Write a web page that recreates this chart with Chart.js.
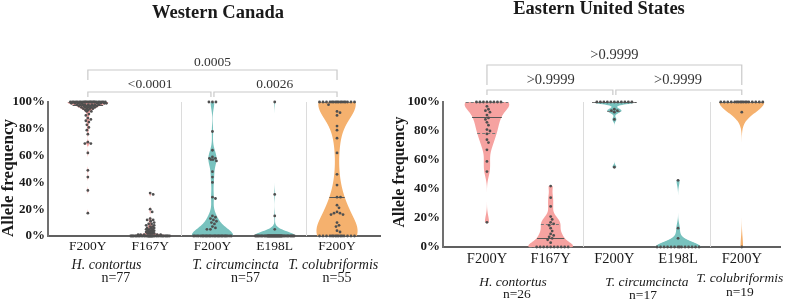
<!DOCTYPE html>
<html>
<head>
<meta charset="utf-8">
<script src="https://cdn.jsdelivr.net/npm/chart.js@4.4.1/dist/chart.umd.min.js"></script>
<style>
  body { margin: 0; background: #fff; }
  .row { display: flex; }
  canvas { display: block; }
</style>
</head>
<body>
<div class="row">
  <canvas id="west" width="390" height="305"></canvas>
  <canvas id="east" width="397" height="305"></canvas>
</div>
<script>
// ---- data ----
const mutations = ['F200Y', 'F167Y', 'F200Y', 'E198L', 'F200Y'];
const species = ['H. contortus', 'T. circumcincta', 'T. colubriformis'];
const westCounts = ['n=77', 'n=57', 'n=55'];
const eastCounts = ['n=26', 'n=17', 'n=19'];
const westPValues = ['0.0005', '<0.0001', '0.0026'];   // top, left, right
const eastPValues = ['>0.9999', '>0.9999', '>0.9999'];
const yTicks = [0, 20, 40, 60, 80, 100];

// allele frequency (%) per sample, Western Canada
const westHcF200Y = [100,100,100,100,100,100,100,100,100,100,100,100,100,100,100,100,100,100,100,100,100,100,100,100,
  99,99,99,99,99,99,99,99, 98,98,98,98,98,98,98,98, 97,97,97,97,97,97, 96,96,96,96,96, 95,95,95,95, 94,94, 93,93,
  91,90,88,87,86,85,83,81,79,76,70,69,69,62,49,44,34,17];
const westHcF167Y = [32,31,20,18,13,12,12,11,10,9,9,8,8,7,7,6,6,6,5,5,5,4,4,4,4,3,3,3,3,2,2,2,2,1,1,1,1,1,
  0,0,0,0,0,0,0,0,0,0,0,0,0,0,0,0,0,0,0,0,0,0,0,0,0,0,0,0,0,0,0,0,0,0,0,0,0,0,0];
const westTcF200Y = [100,100,100,78,64,59,58,58,57,57,56,48,44,40,29,28,15,14,13,12,11,10,9,7,6,5,5,
  0,0,0,0,0,0,0,0,0,0,0,0,0,0,0,0,0,0,0,0,0,0,0,0,0,0,0,0,0,0];
const westTcE198L = [100,31,15,5,
  0,0,0,0,0,0,0,0,0,0,0,0,0,0,0,0,0,0,0,0,0,0,0,0,0,0,0,0,0,0,0,0,0,0,0,0,0,0,0,0,0,0,0,0,0,0,0,0,0,0,0,0,0];
const westTcoF200Y = [100,100,100,100,100,100,100,100,100,100,100,100,100,100,100,100,
  98,93,92,90,82,79,73,62,46,38,29,29,23,21,18,17,17,16,16,10,8,7,4,3,
  0,0,0,0,0,0,0,0,0,0,0,0,0,0,0];

// allele frequency (%) per sample, Eastern United States
const eastHcF200Y = [100,100,100,100,100,100,100,100,97,95,94,93,91,89,88,86,84,81,80,78,74,72,67,59,52,17];
const eastHcF167Y = [42,34,28,21,19,17,16,15,13,11,9,8,7,6,5,3,0,0,0,0,0,0,0,0,0,0];
const eastTcF200Y = [100,100,100,100,100,100,100,100,100,100,100,95,94,94,93,88,55];
const eastTcE198L = [46,13,6,0,0,0,0,0,0,0,0,0,0,0,0,0,0];
const eastTcoF200Y = [100,100,100,100,100,100,100,100,100,100,100,100,100,100,100,100,100,93,0];

const violinColors = ['#f6a2a0', '#f6a2a0', '#78c2be', '#78c2be', '#f5b16e'];

// ---- helpers ----
const serif = "'Liberation Serif', 'Times New Roman', serif";
const BW_FACTOR = 0.6;
const DOT_GAP = 3.2;

function quantile(sorted, p) {
  const h = (sorted.length - 1) * p, i = Math.floor(h);
  const next = i + 1 < sorted.length ? sorted[i + 1] : sorted[i];
  return sorted[i] + (h - i) * (next - sorted[i]);
}

// kernel density outline (gaussian, nrd0 bandwidth), trimmed to the data range
function violinShape(vals, maxHalf) {
  const s = [...vals].sort((a, b) => a - b);
  const n = s.length;
  const mean = s.reduce((a, b) => a + b, 0) / n;
  const sd = Math.sqrt(s.reduce((a, b) => a + (b - mean) ** 2, 0) / (n - 1));
  let lo = Math.min(sd, (quantile(s, 0.75) - quantile(s, 0.25)) / 1.34);
  if (!lo) lo = sd || 1;
  const bw = 0.9 * lo * Math.pow(n, -0.2) * BW_FACTOR;
  const ys = [], ds = [];
  const min = s[0], max = s[n - 1];
  for (let k = 0; k <= 200; k++) {
    const y = min + (max - min) * k / 200;
    let d = 0;
    for (const v of s) d += Math.exp(-0.5 * ((y - v) / bw) ** 2);
    ys.push(y);
    ds.push(d);
  }
  const top = Math.max(...ds);
  return { ys, ws: ds.map(d => d / top * maxHalf), sorted: s };
}

function widthAt(shape, v) {
  const { ys, ws } = shape;
  if (v < ys[0] || v > ys[ys.length - 1]) return 0;
  for (let k = 0; k < ys.length - 1; k++) {
    if (v >= ys[k] && v <= ys[k + 1]) {
      const t = ys[k + 1] === ys[k] ? 0 : (v - ys[k]) / (ys[k + 1] - ys[k]);
      return ws[k] + t * (ws[k + 1] - ws[k]);
    }
  }
  return ws[ws.length - 1];
}

function makePanel(canvasId, panel) {
  const shapes = panel.series.map(vals => violinShape(vals, panel.halfWidth));

  const decor = {
    id: 'decor',
    beforeDatasetsDraw(chart) {
      const { ctx, scales: { x, y } } = chart;
      ctx.save();
      // group separators
      ctx.strokeStyle = '#dcdcdc';
      ctx.lineWidth = 1;
      panel.dividers.forEach(d => {
        const px = Math.round(x.getPixelForValue(d)) + 0.5;
        ctx.beginPath();
        ctx.moveTo(px, y.getPixelForValue(100));
        ctx.lineTo(px, y.getPixelForValue(0));
        ctx.stroke();
      });
      // violins
      shapes.forEach((s, i) => {
        ctx.fillStyle = violinColors[i];
        ctx.beginPath();
        s.ys.forEach((v, k) => {
          const px = x.getPixelForValue(i - s.ws[k]), py = y.getPixelForValue(v);
          if (k) ctx.lineTo(px, py); else ctx.moveTo(px, py);
        });
        for (let k = s.ys.length - 1; k >= 0; k--) {
          ctx.lineTo(x.getPixelForValue(i + s.ws[k]), y.getPixelForValue(s.ys[k]));
        }
        ctx.closePath();
        ctx.fill();
        // median (solid) and quartiles (dashed)
        [[0.5, [], '#555'], [0.25, [3, 2], '#777'], [0.75, [3, 2], '#777']].forEach(([p, dash, col]) => {
          const q = quantile(s.sorted, p);
          const w = widthAt(s, q);
          if (w * (x.getPixelForValue(1) - x.getPixelForValue(0)) < 1.5) return;
          const py = Math.round(y.getPixelForValue(q)) + 0.5;
          ctx.strokeStyle = col;
          ctx.setLineDash(dash);
          ctx.beginPath();
          ctx.moveTo(x.getPixelForValue(i - w), py);
          ctx.lineTo(x.getPixelForValue(i + w), py);
          ctx.stroke();
        });
        ctx.setLineDash([]);
      });
      ctx.restore();
    },
    afterDraw(chart) {
      const { ctx, scales: { x } } = chart;
      const L = panel.layout;
      ctx.save();
      ctx.fillStyle = '#1a1a1a';
      // title
      ctx.font = `bold ${L.titleSize}px ${serif}`;
      ctx.textAlign = 'center';
      ctx.textBaseline = 'alphabetic';
      ctx.fillText(panel.title, L.titleX, L.titleY);
      // y axis title
      ctx.save();
      ctx.translate(L.yTitleX, L.yTitleY);
      ctx.rotate(-Math.PI / 2);
      ctx.font = `bold ${L.yTitleSize}px ${serif}`;
      ctx.textBaseline = 'middle';
      ctx.fillText('Allele frequency', 0, 0);
      ctx.restore();
      // species and sample sizes
      ctx.textBaseline = 'middle';
      species.forEach((sp, i) => {
        ctx.font = `italic ${L.textSize}px ${serif}`;
        ctx.fillText(sp, x.getPixelForValue(L.speciesX[i]), L.speciesY[i]);
        ctx.font = `${L.textSize}px ${serif}`;
        ctx.fillText(panel.counts[i], x.getPixelForValue(L.countX[i]), L.countY[i]);
      });
      // comparison brackets
      const B = L.brackets;
      const px = i => x.getPixelForValue(i);
      ctx.strokeStyle = '#c9c9c9';
      ctx.lineWidth = 1.2;
      const bracket = (x1, x2, yl, yd) => {
        ctx.beginPath();
        ctx.moveTo(x1, yd); ctx.lineTo(x1, yl); ctx.lineTo(x2, yl); ctx.lineTo(x2, yd);
        ctx.stroke();
      };
      bracket(px(0), px(4), B.top, B.topDrop);
      bracket(px(0), px(2) - 1.5, B.low, B.lowDrop);
      bracket(px(2) + 1.5, px(4), B.low, B.lowDrop);
      ctx.font = `${L.pSize}px ${serif}`;
      ctx.fillStyle = '#333';
      ctx.fillText(panel.pValues[0], px(2), B.labelTop);
      ctx.fillText(panel.pValues[1], px(1), B.labelLow);
      ctx.fillText(panel.pValues[2], px(3), B.labelLow);
      ctx.restore();
    }
  };

  const L = panel.layout;
  const chart = new Chart(document.getElementById(canvasId), {
    type: 'scatter',
    data: {
      datasets: panel.series.map(() => ({
        data: [],
        pointRadius: 1.4,
        pointBackgroundColor: '#4f4f4f',
        pointBorderWidth: 0,
        clip: false
      }))
    },
    options: {
      responsive: false,
      animation: false,
      events: [],
      layout: { padding: { left: 0, right: L.padRight, top: L.top, bottom: L.padBottom } },
      plugins: { legend: { display: false }, tooltip: { enabled: false } },
      scales: {
        x: {
          type: 'linear',
          min: L.xMin,
          max: L.xMax,
          afterBuildTicks: s => { s.ticks = mutations.map((m, i) => ({ value: i })); },
          afterFit: s => { s.height = 20; },
          ticks: {
            callback: v => mutations[v],
            autoSkip: false,
            maxRotation: 0,
            padding: L.xTickPad,
            color: '#1a1a1a',
            font: { family: serif, size: L.tickSize }
          },
          grid: { display: false, drawTicks: false },
          border: { color: '#606060', width: 2 }
        },
        y: {
          min: 0,
          max: 100,
          afterBuildTicks: s => { s.ticks = yTicks.map(v => ({ value: v })); },
          afterFit: s => { s.width = L.yWidth; },
          ticks: {
            callback: v => v + '%',
            padding: 3,
            color: '#1a1a1a',
            font: { family: serif, size: L.yTickSize, weight: 'bold' }
          },
          grid: { display: false, drawTicks: false },
          border: { color: '#707070', width: 2 }
        }
      }
    },
    plugins: [decor]
  });

  // beeswarm placement of the dots inside each violin
  const { x, y } = chart.scales;
  const unit = x.getPixelForValue(1) - x.getPixelForValue(0);
  panel.series.forEach((vals, i) => {
    const cx = x.getPixelForValue(i);
    const placed = [];
    [...vals].sort((a, b) => b - a).forEach(v => {
      const py = y.getPixelForValue(v);
      const lim = Math.max(widthAt(shapes[i], v) * unit - 1, 4);
      let best = 0, bestD = -1;
      for (let k = 0; ; k++) {
        const off = (k % 2 ? 1 : -1) * Math.ceil(k / 2) * 0.5;
        if (Math.abs(off) > lim) break;
        let dmin = Infinity;
        for (const p of placed) {
          const d = Math.hypot(p[0] - cx - off, p[1] - py);
          if (d < dmin) dmin = d;
        }
        if (dmin >= DOT_GAP) { best = off; bestD = dmin; break; }
        if (dmin > bestD) { bestD = dmin; best = off; }
      }
      placed.push([cx + best, py]);
      chart.data.datasets[i].data.push({ x: x.getValueForPixel(cx + best), y: v });
    });
  });
  chart.update('none');
  return chart;
}

makePanel('west', {
  title: 'Western Canada',
  series: [westHcF200Y, westHcF167Y, westTcF200Y, westTcE198L, westTcoF200Y],
  counts: westCounts,
  pValues: westPValues,
  dividers: [1.5, 3.5],
  halfWidth: 0.33,
  layout: {
    top: 102, padRight: 10, padBottom: 49, yWidth: 48,
    xMin: -0.64, xMax: 4.69, xTickPad: 2,
    tickSize: 13.5, yTickSize: 13, textSize: 14, pSize: 13.5,
    titleSize: 18.5, titleX: 218, titleY: 18,
    yTitleSize: 17, yTitleX: 9, yTitleY: 178,
    speciesX: [0.3, 2.37, 3.94], speciesY: [265, 265, 265],
    countX: [0.45, 2.53, 4.0], countY: [278, 278, 278],
    brackets: { top: 70, topDrop: 80, low: 92, lowDrop: 97, labelTop: 62, labelLow: 84 }
  }
});

makePanel('east', {
  title: 'Eastern United States',
  series: [eastHcF200Y, eastHcF167Y, eastTcF200Y, eastTcE198L, eastTcoF200Y],
  counts: eastCounts,
  pValues: eastPValues,
  dividers: [1.5, 3.5],
  halfWidth: 0.35,
  layout: {
    top: 102, padRight: 7, padBottom: 38, yWidth: 53,
    xMin: -0.69, xMax: 4.6, xTickPad: 3,
    tickSize: 14.5, yTickSize: 13, textSize: 13.5, pSize: 14.5,
    titleSize: 18.5, titleX: 209, titleY: 14,
    yTitleSize: 16, yTitleX: 10, yTitleY: 172,
    speciesX: [0.41, 2.51, 3.97], speciesY: [282, 282, 278],
    countX: [0.47, 2.45, 3.97], countY: [294, 295, 292],
    brackets: { top: 65, topDrop: 85, low: 90, lowDrop: 95, labelTop: 55, labelLow: 80 }
  }
});
</script>
</body>
</html>
